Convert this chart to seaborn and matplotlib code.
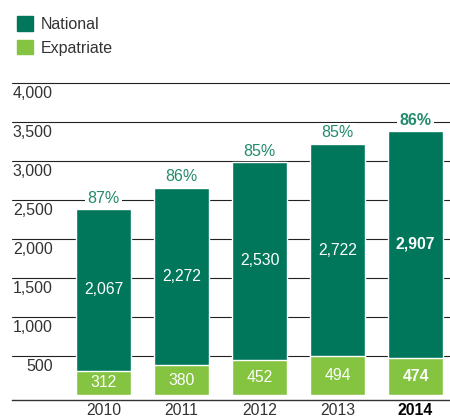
import matplotlib
matplotlib.use("Agg")
import matplotlib.pyplot as plt
import seaborn as sns
import pandas as pd
from matplotlib.patches import Patch

years = ["2010", "2011", "2012", "2013", "2014"]
national = [2067, 2272, 2530, 2722, 2907]
expatriate = [312, 380, 452, 494, 474]
share_labels = ["87%", "86%", "85%", "85%", "86%"]
ytick_vals = [500, 1000, 1500, 2000, 2500, 3000, 3500, 4000]

dark = "#00775a"
light = "#84c441"
pct_color = "#238a6c"
text_color = "#333333"

df = pd.DataFrame({"year": years, "national": national, "expatriate": expatriate})
df["total"] = df["national"] + df["expatriate"]

sns.set_style("white")
plt.rcParams["font.family"] = ["Liberation Sans", "DejaVu Sans"]

fig = plt.figure(figsize=(4.5, 4.17), dpi=100)
ax = fig.add_axes([12 / 450, 17 / 417, 438 / 450, 0.7628])

# total bar first (national on top), then expatriate from zero
sns.barplot(data=df, x="year", y="total", color=dark, width=0.7,
            saturation=1, ax=ax, zorder=3)
sns.barplot(data=df, x="year", y="expatriate", color=light, width=0.7,
            saturation=1, ax=ax, zorder=3)

ax.set_ylim(-65, 4010)
ax.set_xlim(-1.173, 4.442)
ax.set_yticks(ytick_vals)
ax.grid(axis="y", color="#222222", lw=0.8)
ax.set_axisbelow(True)
ax.tick_params(axis="y", length=0, labelleft=False)
ax.tick_params(axis="x", length=0, pad=2, labelsize=11.3, labelcolor=text_color)
ax.set_xlabel("")
ax.set_ylabel("")
for s in ["left", "right", "top"]:
    ax.spines[s].set_visible(False)
ax.spines["bottom"].set_color("#333333")
ax.spines["bottom"].set_linewidth(1.0)

for lab in ax.get_xticklabels():
    if lab.get_text() == "2014":
        lab.set_fontweight("bold")
        lab.set_color("black")

# y labels sit inside the plot, just under each gridline
for v in ytick_vals:
    ax.annotate(f"{v:,}", xy=(0.093, v), xycoords=ax.get_yaxis_transform(),
                xytext=(0, -2.5), textcoords="offset points",
                ha="right", va="top", fontsize=11.5, color=text_color)

for i, row in df.iterrows():
    bold = "bold" if row["year"] == "2014" else "normal"
    ax.text(i, row["expatriate"] + row["national"] / 2, f"{row['national']:,}",
            ha="center", va="center", color="white", fontsize=11.3, fontweight=bold, zorder=4)
    ax.text(i, row["expatriate"] / 2, f"{row['expatriate']:,}",
            ha="center", va="center", color="white", fontsize=11.3, fontweight=bold, zorder=4)
    ax.annotate(share_labels[i], xy=(i, row["total"]), xytext=(0, 2.5),
                textcoords="offset points", ha="center", va="bottom",
                fontsize=11.5, color=pct_color, fontweight=bold, zorder=4,
                bbox=dict(boxstyle="square,pad=0.15", fc="white", ec="none"))

handles = [Patch(color=dark, label="National"), Patch(color=light, label="Expatriate")]
fig.legend(handles=handles, loc="upper left", bbox_to_anchor=(0.005, 0.995),
           frameon=False, handlelength=1.0, handleheight=1.0, handletextpad=0.5,
           labelspacing=0.5, fontsize=11.5, labelcolor=text_color)

fig.savefig("out.png", dpi=100)
